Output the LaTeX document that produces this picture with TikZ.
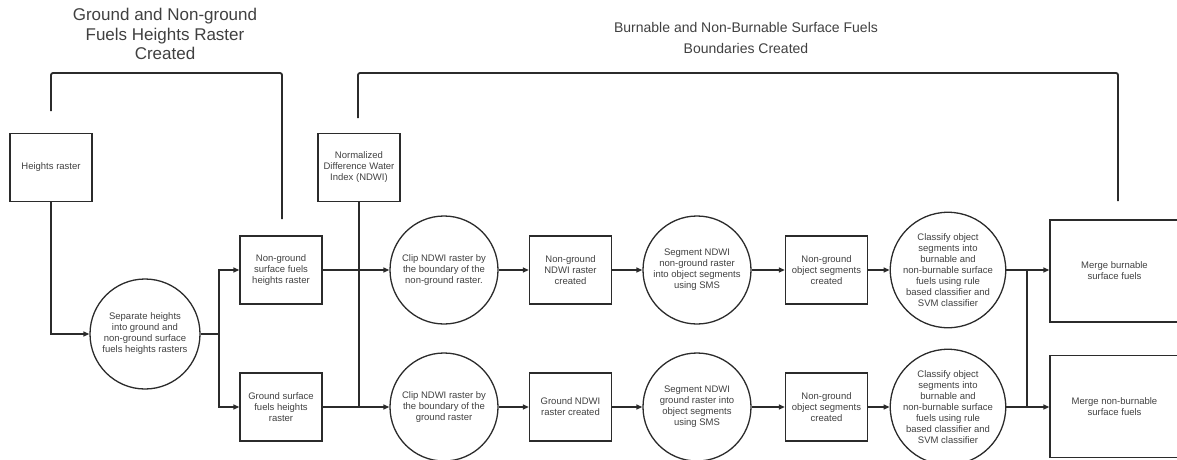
\documentclass[tikz,border=0pt]{standalone}
\usepackage{fontspec}
\setmainfont{Liberation Sans}
\usetikzlibrary{arrows.meta,calc}
\definecolor{ink}{HTML}{2B2B2B}
\definecolor{txt}{HTML}{404040}
\tikzset{
  base/.style={draw=ink, line width=1.3pt, text=txt, align=center, inner sep=0pt,
    font=\fontsize{9.5}{11}\selectfont},
  box/.style={base, rectangle, minimum width=82pt, minimum height=68pt},
  bigbox/.style={base, rectangle, minimum width=129pt, minimum height=102pt},
  proc/.style={base, circle, minimum size=108pt},
  conn/.style={draw=ink, line width=1.3pt},
  arr/.style={conn, -{Triangle[length=6pt,width=5pt]}},
  bracket/.style={draw=ink, line width=1.8pt, rounded corners=2pt},
  title/.style={text=txt, align=center, inner sep=0pt}
}
\begin{document}
\begin{tikzpicture}[x=1pt,y=-1pt]
\useasboundingbox (0,0) rectangle (1177,459);
% titles
\node[title, font=\fontsize{17}{19.5}\selectfont] (t1) at (165,34) {Ground and Non-ground\\Fuels Heights Raster\\Created};
\node[title, font=\fontsize{14}{21}\selectfont] (t2) at (746,37.5) {Burnable and Non-Burnable Surface Fuels\\Boundaries Created};
% nodes
\node[box] (hr) at (51,167.5) {Heights raster};
\node[box] (ndwi) at (359,167.5) {Normalized\\Difference Water\\Index (NDWI)};
\node[proc, minimum size=110pt] (sep) at (145,334) {Separate heights\\into ground and\\non-ground surface\\fuels heights rasters};
\node[box] (ngs) at (281,270) {Non-ground\\surface fuels\\heights raster};
\node[box] (gs) at (281,407) {Ground surface\\fuels heights\\raster};
\node[proc] (clip1) at (444,270) {Clip NDWI raster by\\the boundary of the\\non-ground raster.};
\node[proc] (clip2) at (444,407) {Clip NDWI raster by\\the boundary of the\\ground raster};
\node[box] (ngndwi) at (570.5,270) {Non-ground\\NDWI raster\\created};
\node[box] (gndwi) at (570.5,407) {Ground NDWI\\raster created};
\node[proc] (seg1) at (697,270) {Segment NDWI\\non-ground raster\\into object segments\\using SMS};
\node[proc] (seg2) at (697,407) {Segment NDWI\\ground raster into\\object segments\\using SMS};
\node[box] (obj1) at (826.5,270) {Non-ground\\object segments\\created};
\node[box] (obj2) at (826.5,407) {Non-ground\\object segments\\created};
\node[proc, minimum size=106pt] (cls1) at (948,270) {Classify object\\segments into\\burnable and\\non-burnable surface\\fuels using rule\\based classifier and\\SVM classifier};
\node[proc, minimum size=106pt] (cls2) at (948,407) {Classify object\\segments into\\burnable and\\non-burnable surface\\fuels using rule\\based classifier and\\SVM classifier};
\node[bigbox] (m1) at (1114.5,271) {Merge burnable\\surface fuels};
\node[bigbox] (m2) at (1114.5,406.5) {Merge non-burnable\\surface fuels};
% junction coordinates
\coordinate (j1) at (219,334);
\coordinate (j2) at (ndwi.south |- gs.east);
\coordinate (j3a) at (1027,270);
\coordinate (j3b) at (1027,407);
% connectors
\draw[arr] (hr.south) |- (sep.west);
\draw[conn] (sep.east) -- (j1);
\draw[arr] (j1) |- (ngs.west);
\draw[arr] (j1) |- (gs.west);
\draw[arr] (ngs.east) -- (clip1.west);
\draw[arr] (gs.east) -- (clip2.west);
\draw[conn] (ndwi.south) -- (j2);
\draw[arr] (clip1.east) -- (ngndwi.west);
\draw[arr] (clip2.east) -- (gndwi.west);
\draw[arr] (ngndwi.east) -- (seg1.west);
\draw[arr] (gndwi.east) -- (seg2.west);
\draw[arr] (seg1.east) -- (obj1.west);
\draw[arr] (seg2.east) -- (obj2.west);
\draw[arr] (obj1.east) -- (cls1.west);
\draw[arr] (obj2.east) -- (cls2.west);
\draw[arr] (cls1.east) -- (cls1.east -| m1.west);
\draw[arr] (cls2.east) -- (cls2.east -| m2.west);
\draw[conn] (j3a) -- (j3b);
% brackets
\coordinate (b1a) at (51,111);
\coordinate (b1b) at (282,219);
\coordinate (b2a) at (358,118);
\coordinate (b2b) at (1118,201);
\draw[bracket] (b1a) -- (b1a |- 0,73) -- (b1b |- 0,73) -- (b1b);
\draw[bracket] (b2a) -- (b2a |- 0,73) -- (b2b |- 0,73) -- (b2b);
\end{tikzpicture}
\end{document}
